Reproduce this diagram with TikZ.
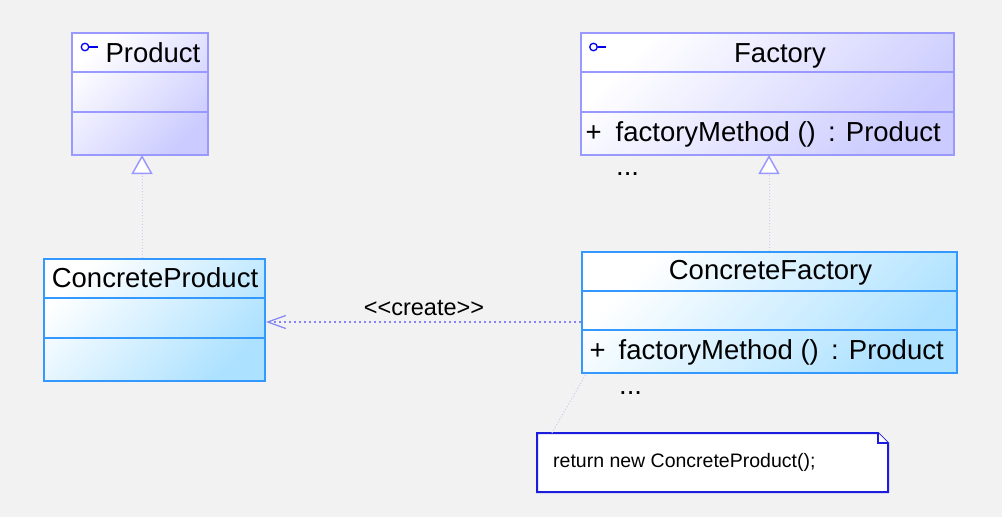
\documentclass[tikz,border=0pt]{standalone}
\usepackage{fontspec}
\setmainfont{Liberation Sans}
\usetikzlibrary{arrows.meta}
\definecolor{bg}{HTML}{F2F2F2}
\definecolor{ifaceline}{HTML}{9999FF}
\definecolor{ifacefill}{HTML}{CBCBFF}
\definecolor{classline}{HTML}{3399FF}
\definecolor{classfill}{HTML}{ACE1FF}
\definecolor{noteline}{HTML}{1C1CDC}
\definecolor{depline}{HTML}{8585F5}
\definecolor{linkline}{HTML}{CACAEA}
\definecolor{iconblue}{HTML}{0000EE}
\tikzset{
  ifacebox/.style={draw=ifaceline, line width=2pt, top color=white, bottom color=ifacefill, shading angle=45, inner sep=0pt},
  classbox/.style={draw=classline, line width=2pt, top color=white, bottom color=classfill, shading angle=45, inner sep=0pt},
  ifacesep/.style={draw=ifaceline, line width=1.5pt},
  classsep/.style={draw=classline, line width=1.5pt},
  classtitle/.style={font=\fontsize{27.5}{33}\selectfont, inner sep=0pt, anchor=base},
  member/.style={font=\fontsize{27.5}{33}\selectfont, inner sep=0pt, anchor=base west},
  iconring/.style={circle, draw=iconblue, line width=1.3pt, minimum size=7.5pt, inner sep=0pt},
  realize/.style={draw=linkline, line width=1pt, dash pattern=on 1pt off 2pt,
    -{Triangle[length=19pt, width=21pt, color=ifaceline, fill=white, line width=1.5pt]}},
  dependency/.style={draw=depline, line width=1.5pt, dash pattern=on 2.5pt off 2.5pt,
    -{Straight Barb[length=18pt, width=13pt, line width=1.2pt]}},
  stereo/.style={font=\fontsize{23.5}{28}\selectfont, inner sep=0pt},
  notebody/.style={draw=noteline, line width=2pt, fill=white},
  notetext/.style={font=\fontsize{19.5}{24}\selectfont, inner sep=0pt, anchor=base west},
  notelink/.style={draw=linkline, line width=1pt, dash pattern=on 1pt off 2pt}
}
\begin{document}
\begin{tikzpicture}[x=1pt,y=-1pt]
\fill[bg] (0,0) rectangle (1002,517);
\useasboundingbox (0,0) rectangle (1002,517);
% interfaces
\node[ifacebox, minimum width=136pt, minimum height=122pt] (product) at (140,94){};
\draw[ifacesep] ([yshift=-40pt]product.north west) -- ([yshift=-40pt]product.north east);
\draw[ifacesep] ([yshift=-80pt]product.north west) -- ([yshift=-80pt]product.north east);
\node[iconring] (producticon) at (85,47){};
\draw[iconblue, line width=1.3pt] (producticon.east) -- ++(8.5,0);
\node[classtitle] (producttitle) at (153,62.5){Product};
\node[ifacebox, minimum width=373pt, minimum height=122pt] (factory) at (767.5,94){};
\draw[ifacesep] ([yshift=-40pt]factory.north west) -- ([yshift=-40pt]factory.north east);
\draw[ifacesep] ([yshift=-80pt]factory.north west) -- ([yshift=-80pt]factory.north east);
\node[iconring] (factoryicon) at (593.5,47){};
\draw[iconblue, line width=1.3pt] (factoryicon.east) -- ++(8.5,0);
\node[classtitle] (factorytitle) at (780,62.5){Factory};
\node[member] (factoryplus) at (585.5,141){+};
\node[member] (factorymethod) at (615.5,141){factoryMethod () \,: Product};
\node[member] (factorydots) at (616,175){...};
% concrete classes
\node[classbox, minimum width=221pt, minimum height=122pt] (cproduct) at (154.5,320){};
\draw[classsep] ([yshift=-40pt]cproduct.north west) -- ([yshift=-40pt]cproduct.north east);
\draw[classsep] ([yshift=-80pt]cproduct.north west) -- ([yshift=-80pt]cproduct.north east);
\node[classtitle] (cproducttitle) at (155,287){ConcreteProduct};
\node[classbox, minimum width=375pt, minimum height=121pt] (cfactory) at (769.5,312.5){};
\draw[classsep] ([yshift=-40pt]cfactory.north west) -- ([yshift=-40pt]cfactory.north east);
\draw[classsep] ([yshift=-79pt]cfactory.north west) -- ([yshift=-79pt]cfactory.north east);
\node[classtitle] (cfactorytitle) at (770.5,279.5){ConcreteFactory};
\node[member] (cfactoryplus) at (589.5,359.5){+};
\node[member] (cfactorymethod) at (618.5,359.5){factoryMethod () \,: Product};
\node[member] (cfactorydots) at (619,394){...};
% relations
\coordinate (productgen) at (142,155);
\draw[realize] (productgen |- cproduct.north) -- (productgen);
\coordinate (factorygen) at (769,155);
\draw[realize] (factorygen |- cfactory.north) -- (factorygen);
\coordinate (create) at (424,322);
\draw[dependency] (create -| cfactory.west) -- (create -| cproduct.east);
\node[stereo] (createlabel) at (424,308){<{}<create>{}>};
% note
\node[minimum width=351pt, minimum height=59pt, inner sep=0pt, outer sep=0pt] (note) at (712.5,462.5){};
\draw[notebody] (note.north west) -- ([xshift=-10pt]note.north east) -- ([yshift=-10pt]note.north east) -- (note.south east) -- (note.south west) -- cycle;
\draw[notebody] ([xshift=-10pt]note.north east) -- ([xshift=-10pt,yshift=-10pt]note.north east) -- ([yshift=-10pt]note.north east);
\node[notetext] (notecode) at (553,467){return new ConcreteProduct();};
\draw[notelink] ([xshift=15pt]note.north west) -- ([xshift=5pt]cfactory.south west);
\end{tikzpicture}
\end{document}
